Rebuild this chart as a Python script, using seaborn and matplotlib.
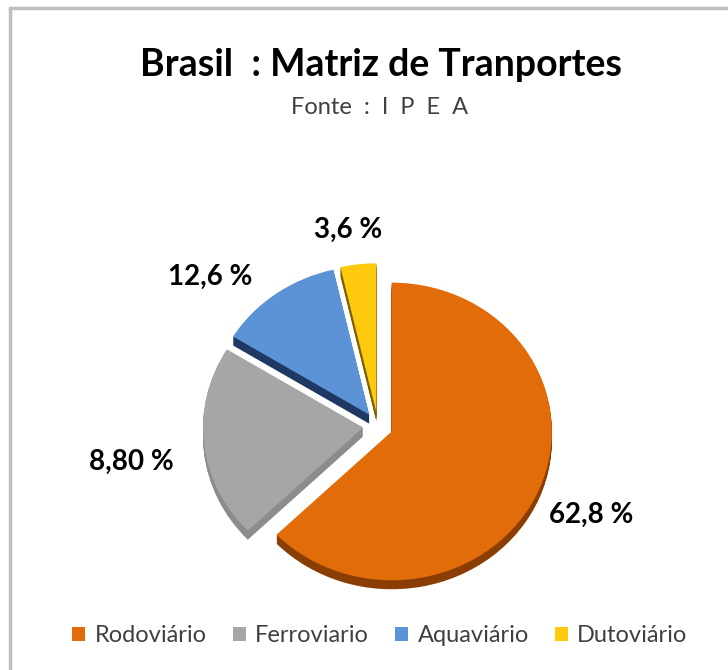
import matplotlib
matplotlib.use("Agg")
import matplotlib.pyplot as plt
from matplotlib.lines import Line2D
import seaborn as sns

# dados
modais = ["Rodoviário", "Ferroviario", "Aquaviário", "Dutoviário"]
participacao = [62.8, 21.0, 12.6, 3.6]  # tamanho das fatias como aparece no desenho
rotulos = ["62,8 %", "8,80 %", "12,6 %", "3,6 %"]

cores = ["#E36C0A", "#A6A6A6", "#5B93D6", "#FFC90E"]
cores_borda = ["#8A3E04", "#8C8C8C", "#1F3864", "#7F6000"]

sns.set_theme(style="white")
plt.rcParams["font.family"] = ["Lato", "DejaVu Sans"]

W, H = 728, 670
fig = plt.figure(figsize=(W / 100, H / 100), dpi=100)
ax = fig.add_axes([0, 0, 1, 1])

sy = 0.93  # leve achatamento para parecer 3D


def py(y):
    return (H - y) / sy


cx, cy, r = 378, py(426), 160
explode = [15] * len(participacao)

# "espessura" da pizza: cópias escuras deslocadas para baixo
profundidade = 9
for d in range(profundidade, 0, -1):
    ax.pie(participacao, colors=cores_borda, startangle=90, counterclock=False,
           explode=explode, radius=r, center=(cx, cy - d / sy), frame=True,
           wedgeprops=dict(linewidth=0))

fatias, _ = ax.pie(participacao, colors=cores, startangle=90, counterclock=False,
                   explode=explode, radius=r, center=(cx, cy), frame=True,
                   wedgeprops=dict(linewidth=0))

ax.set_aspect("auto")
ax.set_xlim(0, W)
ax.set_ylim(0, H / sy)
ax.axis("off")

# rótulos de dados
pos_rotulos = [(591, 515), (131, 462), (210, 277), (348, 230)]
for txt, (x, y) in zip(rotulos, pos_rotulos):
    ax.text(x, py(y), txt, ha="center", va="center", fontsize=20,
            fontweight="bold", color="black")

# títulos
fig.text(381 / W, 1 - 65 / H, "Brasil  : Matriz de Tranportes", ha="center",
         va="center", fontsize=27, fontweight="bold", color="black")
fig.text(380 / W, 1 - 108 / H, "Fonte  :  I  P  E  A", ha="center", va="center",
         fontsize=17, color="#404040")

# legenda
leg = ax.legend(fatias, modais, loc="center", bbox_to_anchor=(380 / W, 1 - 636 / H),
                bbox_transform=fig.transFigure, ncol=4, frameon=False,
                fontsize=17, handlelength=0.55, handleheight=0.55,
                handletextpad=0.4, columnspacing=1.1)
for t in leg.get_texts():
    t.set_color("#404040")

# moldura
fig.add_artist(Line2D([10 / W, 1], [1 - 8 / H, 1 - 8 / H], color="#BFBFBF", lw=2.5,
                      transform=fig.transFigure))
fig.add_artist(Line2D([10 / W, 10 / W], [0, 1 - 8 / H], color="#BFBFBF", lw=2.5,
                      transform=fig.transFigure))

fig.savefig("out.png", dpi=100, facecolor="white")
